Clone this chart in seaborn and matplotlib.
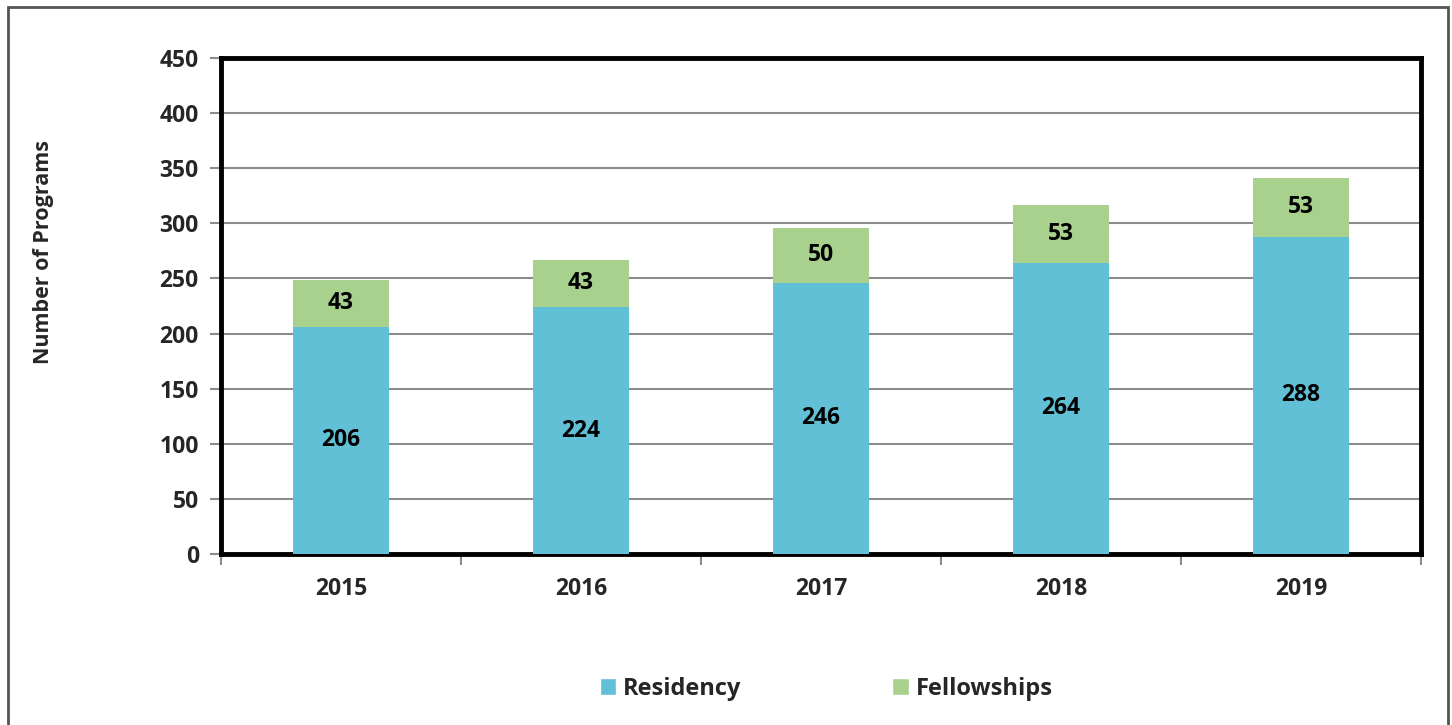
import numpy as np
import pandas as pd
import matplotlib
matplotlib.use('Agg')
import matplotlib.pyplot as plt
import seaborn as sns
from matplotlib.patches import Patch, Rectangle

# ---- data ----
years = ['2015', '2016', '2017', '2018', '2019']
residency = [206, 224, 246, 264, 288]
fellowships = [43, 43, 50, 53, 53]

resid_color = '#62C0D6'
fellow_color = '#A9D18E'

df = pd.DataFrame({'Year': years, 'Residency': residency, 'Fellowships': fellowships})
df['Total'] = df['Residency'] + df['Fellowships']

sns.set_style('white')
plt.rcParams['font.family'] = ['Open Sans', 'DejaVu Sans']
plt.rcParams['font.weight'] = 'bold'

fig = plt.figure(figsize=(14.52, 7.25), dpi=100)
ax = fig.add_axes([0.1522, 0.2359, 0.8265, 0.6841])

# stacked bars: totals first (green), residency drawn over them
sns.barplot(data=df, x='Year', y='Total', color=fellow_color, width=0.4,
            saturation=1, linewidth=0, ax=ax, zorder=3)
sns.barplot(data=df, x='Year', y='Residency', color=resid_color, width=0.4,
            saturation=1, linewidth=0, ax=ax, zorder=3)

# value labels
for i, row in df.iterrows():
    ax.text(i, row['Residency'] / 2, str(row['Residency']), ha='center', va='center',
            fontsize=16.5, fontweight='bold', color='black', zorder=5)
    ax.text(i, row['Residency'] + row['Fellowships'] / 2, str(row['Fellowships']),
            ha='center', va='center', fontsize=16.5, fontweight='bold', color='black', zorder=5)

ax.set_ylim(0, 450)
ax.set_xlim(-0.5, len(years) - 0.5)
ax.set_yticks(np.arange(0, 451, 50))
ax.yaxis.grid(True, color='#8c8c8c', linewidth=1.5, zorder=0)
ax.set_axisbelow(True)

for s in ax.spines.values():
    s.set_visible(True)
    s.set_color('black')
    s.set_linewidth(3.5)

ax.tick_params(axis='y', which='major', left=True, length=8, width=1.5, color='#8c8c8c',
               labelsize=16.5, pad=8)
ax.tick_params(axis='x', which='major', bottom=False, labelsize=16.5, pad=13)
ax.set_xticks(np.arange(-0.5, len(years)), minor=True)
ax.tick_params(axis='x', which='minor', bottom=True, length=8, width=1.5, color='#8c8c8c')
for lab in ax.get_xticklabels() + ax.get_yticklabels():
    lab.set_fontweight('bold')

ax.set_xlabel('')
ax.set_ylabel('Number of Programs', fontsize=15.5, fontweight='bold')
ax.yaxis.label.set_va('center')
ax.yaxis.set_label_coords(-0.148, 0.609)

handles = [Patch(facecolor=resid_color, label='Residency'),
           Patch(facecolor=fellow_color, label='Fellowships')]
fig.legend(handles=handles, loc='center', bbox_to_anchor=(0.569, 0.05), ncol=2,
           frameon=False, prop={'size': 17, 'weight': 'bold'},
           handlelength=0.68, handleheight=0.68, handletextpad=0.3, columnspacing=6.4)

# outer border
fig.patches.append(Rectangle((0.0055, -0.01), 0.9915, 1.0, transform=fig.transFigure,
                             fill=False, edgecolor='#555555', linewidth=2))

fig.savefig('out.png', dpi=100)
